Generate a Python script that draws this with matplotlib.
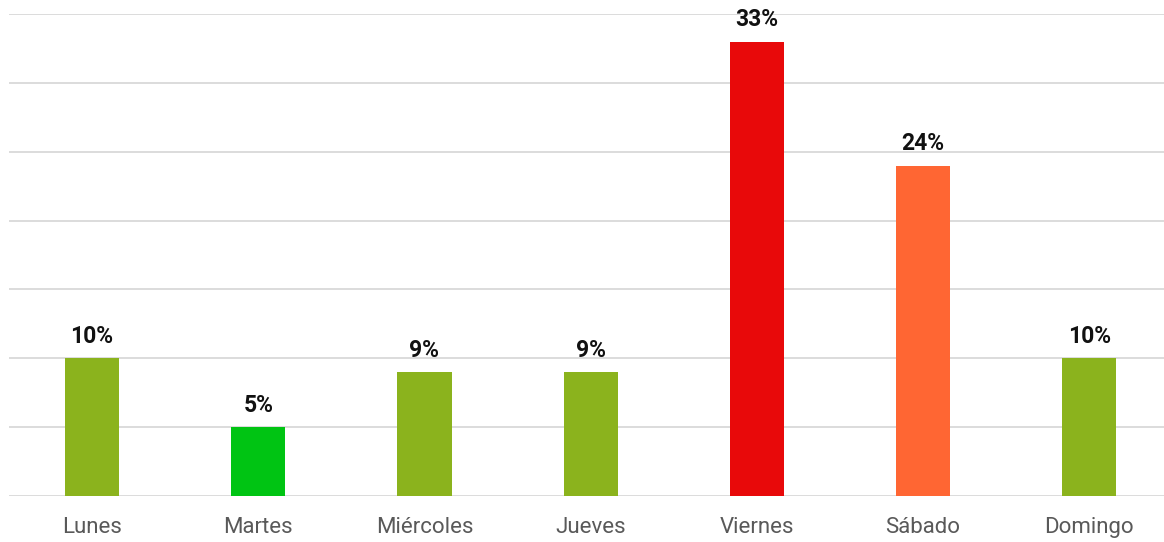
import matplotlib
matplotlib.use("Agg")
import matplotlib.pyplot as plt

days = ["Lunes", "Martes", "Miércoles", "Jueves", "Viernes", "Sábado", "Domingo"]
shares = [10, 5, 9, 9, 33, 24, 10]
bar_colors = ["#8BB31D", "#00C413", "#8BB31D", "#8BB31D", "#E8090A", "#FF6633", "#8BB31D"]

plt.rcParams["font.family"] = ["Liberation Sans Narrow", "Roboto", "DejaVu Sans"]

fig = plt.figure(figsize=(11.64, 5.42), dpi=100)
ax = fig.add_axes([9 / 1164, 0.085, 7 * 166.2 / 1164, 0.889])

x = list(range(len(days)))
ax.bar(x, shares, width=0.325, color=bar_colors, zorder=3)

for xi, v in zip(x, shares):
    ax.text(xi, v + 0.75, f"{v}%", ha="center", va="bottom",
            fontsize=16.5, fontweight="bold", color="#111111")

ax.set_xlim(-0.5, len(days) - 0.5)
ax.set_ylim(0, 35)
ax.set_yticks(range(0, 36, 5))
ax.yaxis.grid(True, color="#D9D9D9", linewidth=1.3, zorder=0)
ax.tick_params(axis="y", left=False, labelleft=False)
ax.tick_params(axis="x", length=0, pad=15, labelsize=16, labelcolor="#595959")
ax.set_xticks(x)
ax.set_xticklabels(days)
for s in ax.spines.values():
    s.set_visible(False)

fig.savefig("out.png", dpi=100)
